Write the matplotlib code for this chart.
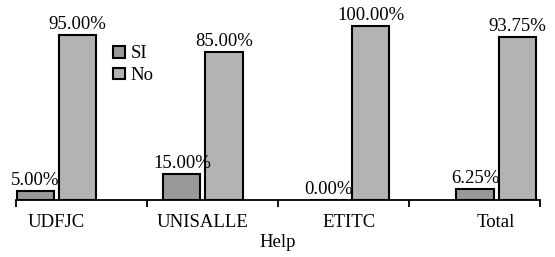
import numpy as np
import matplotlib
matplotlib.use("Agg")
import matplotlib.pyplot as plt

categories = ["UDFJC", "UNISALLE", "ETITC", "Total"]
si_vals = [5.00, 15.00, 0.00, 6.25]
no_vals = [95.00, 85.00, 100.00, 93.75]

plt.rcParams['font.family'] = ['Liberation Serif', 'DejaVu Serif']
plt.rcParams['font.size'] = 13.5

fig = plt.figure(figsize=(5.55, 2.57), dpi=100)
ax = fig.add_axes([16 / 555, 57 / 257, 524 / 555, 200 / 257])

x = np.arange(len(categories))
w = 0.253
off = 0.1435
b1 = ax.bar(x - off, np.array(si_vals) / 100, w, color="#999999",
            edgecolor="black", linewidth=1.5, label="SI")
b2 = ax.bar(x + off, np.array(no_vals) / 100, w, color="#b3b3b3",
            edgecolor="black", linewidth=1.5, label="No")

for bars, vals in [(b1, si_vals), (b2, no_vals)]:
    for r, v in zip(bars, vals):
        ax.text(r.get_x() + r.get_width() / 2, r.get_height() + 0.012,
                "%.2f%%" % v, ha="center", va="bottom")

ax.set_xlim(-0.276, 3.30)
ax.set_ylim(0, 1.15)

for s in ["top", "right", "left"]:
    ax.spines[s].set_visible(False)
ax.spines["bottom"].set_linewidth(1.3)
ax.set_yticks([])

ax.set_xticks(x)
ax.set_xticklabels(categories)
ax.tick_params(axis="x", which="major", length=0, pad=10)
lo, hi = ax.get_xlim()
ax.set_xticks(np.linspace(lo, hi, 5), minor=True)
ax.tick_params(axis="x", which="minor", length=5, width=1.3)

ax.set_xlabel("Help", labelpad=2)

fig.legend(loc="upper left", bbox_to_anchor=(104 / 555, 1 - 36 / 257),
           frameon=False, handlelength=0.6, handleheight=0.6,
           handletextpad=0.3, labelspacing=0.25, borderpad=0)

fig.savefig("out.png", dpi=100)
